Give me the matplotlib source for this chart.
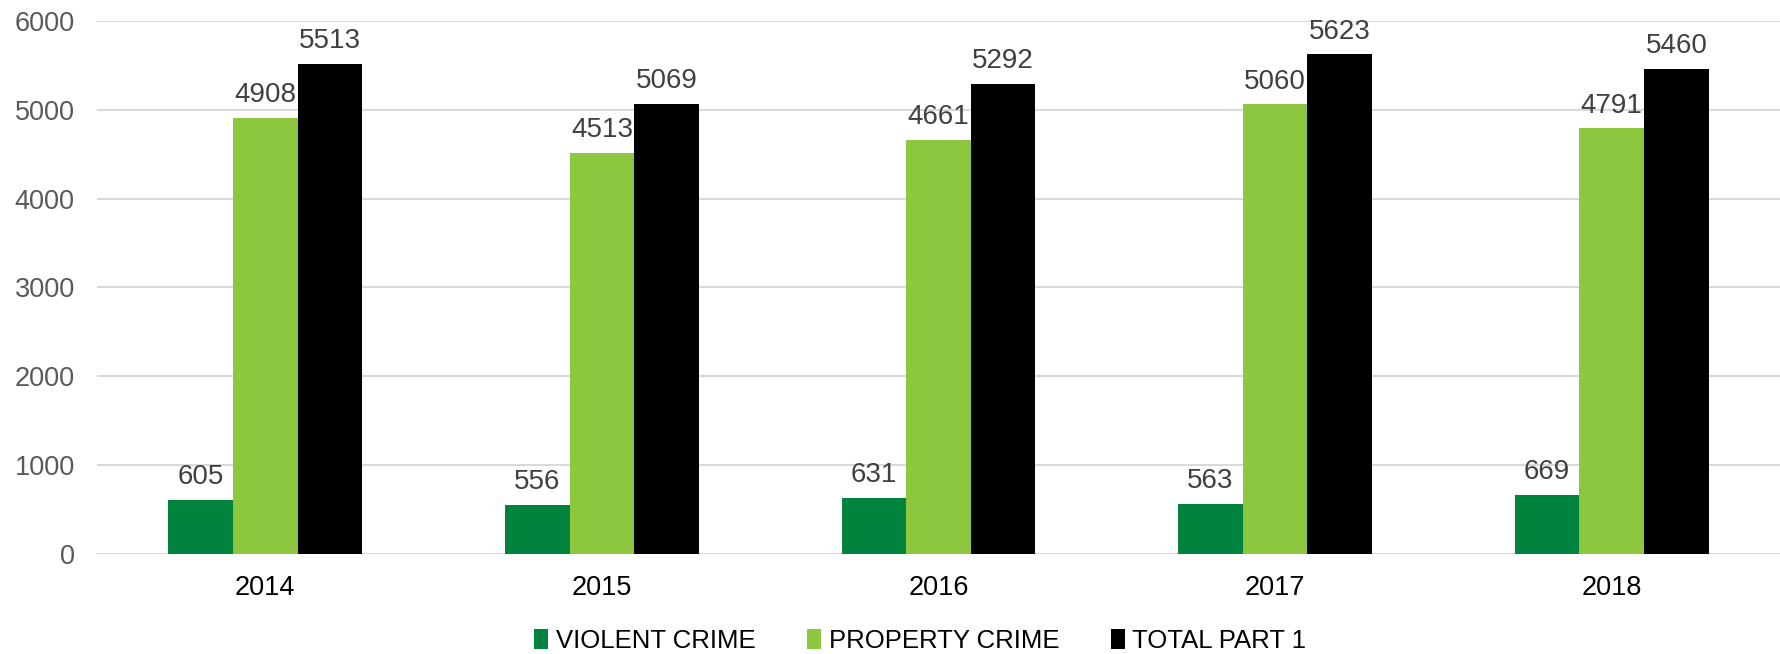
import numpy as np
import matplotlib
matplotlib.use('Agg')
import matplotlib.pyplot as plt

years = ['2014', '2015', '2016', '2017', '2018']
violent = [605, 556, 631, 563, 669]
property_crime = [4908, 4513, 4661, 5060, 4791]
total_part1 = [5513, 5069, 5292, 5623, 5460]

plt.rcParams['font.family'] = ['Liberation Sans', 'DejaVu Sans']

fig = plt.figure(figsize=(17.8, 6.54), dpi=100)
ax = fig.add_axes([0.0545, 0.153, 0.9455, 0.815])

x = np.arange(len(years))
w = 0.192
series = [
    ('VIOLENT CRIME', violent, '#00843D'),
    ('PROPERTY CRIME', property_crime, '#8DC63F'),
    ('TOTAL PART 1', total_part1, '#000000'),
]
for i, (name, vals, col) in enumerate(series):
    bars = ax.bar(x + (i - 1) * w, vals, w, color=col, label=name, zorder=3)
    for b, v in zip(bars, vals):
        ax.text(b.get_x() + b.get_width() / 2, v + 110, str(v), ha='center', va='bottom',
                fontsize=20, color='#404040')

ax.set_xlim(-0.5, len(years) - 0.5)
ax.set_ylim(0, 6000)
ax.set_yticks(range(0, 6001, 1000))
ax.set_xticks(x)
ax.set_xticklabels(years)
ax.tick_params(axis='both', length=0, labelsize=19.5, labelcolor='#595959')
ax.tick_params(axis='x', pad=15, labelcolor='#000000')
ax.tick_params(axis='y', pad=16)
ax.grid(axis='y', color='#D9D9D9', linewidth=1.5, zorder=0)
for s in ax.spines.values():
    s.set_visible(False)

fig.legend(*ax.get_legend_handles_labels(), loc='center', bbox_to_anchor=(0.517, 0.02),
           ncol=3, frameon=False, fontsize=18.5, handlelength=0.55, handleheight=0.8,
           handletextpad=0.3, columnspacing=2.0, borderpad=0)

fig.savefig('out.png', dpi=100)
